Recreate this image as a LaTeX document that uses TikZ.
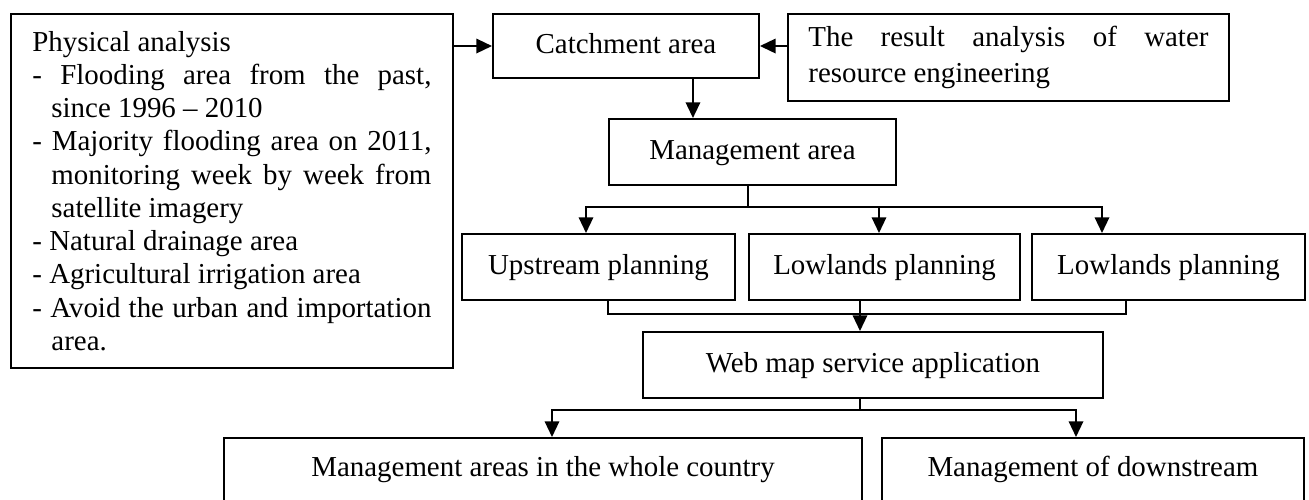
\documentclass[tikz,border=0pt]{standalone}
\usepackage{fontspec}
\setmainfont{Liberation Serif}
\usetikzlibrary{arrows.meta, positioning, calc}

\newcommand{\pxu}{0.415pt}

\begin{document}
\begin{tikzpicture}[x=\pxu, y=-\pxu,
  box/.style={draw, line width=0.8pt, inner sep=0pt, anchor=north west,
    font=\fontsize{12}{13.8}\selectfont},
  onebox/.style={box, minimum height=27.4pt, text height=8.5pt, text depth=2.5pt},
  textbox/.style={box, align=justify},
  arr/.style={line width=0.8pt, -{Triangle[length=6.5pt, width=6pt]}},
  link/.style={line width=0.8pt}]

  % page frame (pixels of the reference, y downwards)
  \useasboundingbox (0,0) rectangle (1309,500);

  % --- input boxes ---
  \node[textbox, text width=165.6pt, minimum width=183.4pt, minimum height=146.9pt] (phys) at (10,13)
    {\parindent=0pt\hyphenpenalty=10000
     Physical analysis\par
     \hangindent=7.9pt\hangafter=1 - Flooding area from the past,\linebreak since 1996 -- 2010\par
     \hangindent=7.9pt\hangafter=1 - Majority flooding area on 2011,\linebreak monitoring week by week from\linebreak satellite imagery\par
     \hangindent=7.9pt\hangafter=1 - Natural drainage area\par
     \hangindent=7.9pt\hangafter=1 - Agricultural irrigation area\par
     \hangindent=7.9pt\hangafter=1 - Avoid the urban and importation\linebreak area.\par};
  \node[onebox, minimum width=110.4pt, minimum height=26.6pt] (catch) at (492,13) {Catchment area};
  \node[textbox, text width=166pt, minimum width=183pt, minimum height=36.1pt] (result) at (787,13)
    {\hyphenpenalty=10000 \vspace*{1pt}The result analysis of water\linebreak resource engineering};

  % --- management and planning ---
  \node[onebox, minimum width=119.1pt] (mgmt) at (608,118) {Management area};
  \node[onebox, minimum width=113.3pt] (up) at (461,233) {Upstream planning};
  \node[onebox, minimum width=112.5pt] (low1) at (748,233) {Lowlands planning};
  \node[onebox, minimum width=113.3pt] (low2) at (1031,233) {Lowlands planning};

  % --- web service and outputs ---
  \node[onebox, minimum width=190.9pt] (web) at (642,331) {Web map service application};
  \node[box, minimum width=264.8pt, text height=15.8pt, text depth=19pt] (whole) at (223,437)
    {Management areas in the whole country};
  \node[box, minimum width=175.1pt, text height=15.8pt, text depth=19pt] (down) at (881,437)
    {Management of downstream};

  % junction points
  \coordinate (cdrop) at ($(catch.south west)!0.75!(catch.south east)$);
  \coordinate (msplit) at (748,207);
  \coordinate (upin) at (586,0);
  \coordinate (low1in) at (879,0);
  \coordinate (low2in) at (1102,0);
  \coordinate (upout) at (608,0);
  \coordinate (low2out) at (1126,0);
  \coordinate (gath) at (860,314);
  \coordinate (wsplit) at (860,410);
  \coordinate (wholein) at (552,0);
  \coordinate (downin) at (1076,0);

  % connectors
  \draw[arr] (catch.west -| phys.east) -- (catch.west);
  \draw[arr] (catch.east -| result.west) -- (catch.east);
  \draw[arr] (cdrop) -- (cdrop |- mgmt.north);

  \draw[link] (mgmt.south -| msplit) -- (msplit);
  \draw[arr] (msplit) -| (upin |- up.north);
  \draw[arr] (msplit) -| (low1in |- low1.north);
  \draw[arr] (msplit) -| (low2in |- low2.north);

  \draw[link] (upout |- up.south) |- (gath);
  \draw[link] (low2out |- low2.south) |- (gath);
  \draw[arr] (low1.south -| gath) -- (web.north -| gath);

  \draw[link] (web.south -| wsplit) -- (wsplit);
  \draw[arr] (wsplit) -| (wholein |- whole.north);
  \draw[arr] (wsplit) -| (downin |- down.north);
\end{tikzpicture}
\end{document}
